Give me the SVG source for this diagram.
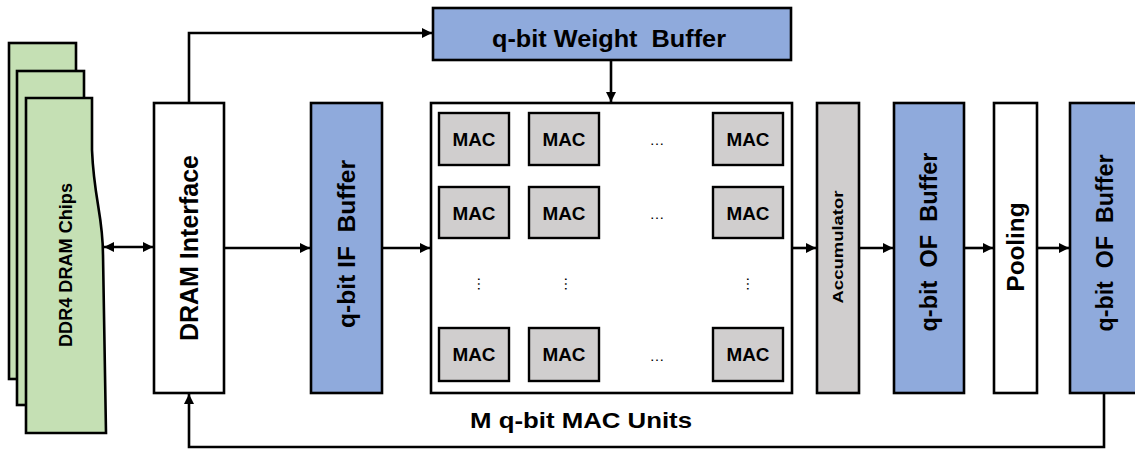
<svg xmlns="http://www.w3.org/2000/svg" width="1135" height="452" viewBox="0 0 1135 452">
  <defs>
    <marker id="arrow" viewBox="0 0 10 10" refX="10" refY="5" markerWidth="4" markerHeight="4" orient="auto-start-reverse" markerUnits="strokeWidth">
      <path d="M0,0 L10,5 L0,10 Z" fill="#000"/>
    </marker>
    <style>
      .box { stroke: #000; stroke-width: 2.6; }
      .white { fill: #ffffff; }
      .blue { fill: #8faadc; }
      .gray { fill: #d0cece; }
      .green { fill: #c5e0b4; }
      .mac { fill: #d0cece; stroke: #000; stroke-width: 2.4; }
      .lbl { font-family: "Liberation Sans", Arial, sans-serif; font-weight: bold; fill: #000; text-anchor: middle; }
      .dots { font-family: "Liberation Sans", Arial, sans-serif; fill: #000; text-anchor: middle; font-size: 15px; }
      .wire { fill: none; stroke: #000; stroke-width: 2.6; }
    </style>
  </defs>

  <rect width="1135" height="452" fill="#ffffff"/>

  <!-- stacked DRAM chips -->
  <g id="dram-chips">
    <rect class="box green" x="9" y="43" width="67" height="336"/>
    <rect class="box green" x="17" y="71" width="67" height="334"/>
    <path class="box green" d="M26,98 L92,98 L92,150 C94,200 103,215 103,255 L106,433 L26,433 Z"/>
    <text class="lbl" font-size="18" transform="translate(72,265) rotate(-90)" textLength="164" lengthAdjust="spacingAndGlyphs">DDR4 DRAM Chips</text>
  </g>

  <g id="dram-interface">
    <rect class="box white" x="154" y="103" width="70" height="290"/>
    <text class="lbl" font-size="26" transform="translate(198,248) rotate(-90)" textLength="186" lengthAdjust="spacingAndGlyphs">DRAM Interface</text>
  </g>

  <g id="weight-buffer">
    <rect class="box blue" x="433" y="8" width="358" height="52"/>
    <text class="lbl" x="609" y="47" font-size="23" textLength="234" lengthAdjust="spacingAndGlyphs" xml:space="preserve">q-bit Weight  Buffer</text>
  </g>

  <g id="if-buffer">
    <rect class="box blue" x="311" y="103" width="71" height="290"/>
    <text class="lbl" font-size="23" transform="translate(355,244) rotate(-90)" textLength="168" lengthAdjust="spacingAndGlyphs" xml:space="preserve">q-bit IF  Buffer</text>
  </g>

  <!-- MAC array -->
  <g id="mac-array">
    <rect class="box white" x="431" y="103" width="361" height="290"/>
    <g id="mac-row-1">
      <rect class="mac" x="439" y="113" width="70" height="52"/>
      <rect class="mac" x="529" y="113" width="70" height="52"/>
      <rect class="mac" x="713" y="113" width="70" height="52"/>
      <text class="lbl" x="474" y="146" font-size="19" textLength="43" lengthAdjust="spacingAndGlyphs">MAC</text>
      <text class="lbl" x="564" y="146" font-size="19" textLength="43" lengthAdjust="spacingAndGlyphs">MAC</text>
      <text class="lbl" x="748" y="146" font-size="19" textLength="43" lengthAdjust="spacingAndGlyphs">MAC</text>
      <text class="dots" x="657" y="145">…</text>
    </g>
    <g id="mac-row-2">
      <rect class="mac" x="439" y="187" width="70" height="51"/>
      <rect class="mac" x="529" y="187" width="70" height="51"/>
      <rect class="mac" x="713" y="187" width="70" height="51"/>
      <text class="lbl" x="474" y="220" font-size="19" textLength="43" lengthAdjust="spacingAndGlyphs">MAC</text>
      <text class="lbl" x="564" y="220" font-size="19" textLength="43" lengthAdjust="spacingAndGlyphs">MAC</text>
      <text class="lbl" x="748" y="220" font-size="19" textLength="43" lengthAdjust="spacingAndGlyphs">MAC</text>
      <text class="dots" x="657" y="219">…</text>
    </g>
    <g id="mac-vdots">
      <text class="dots" transform="translate(478,284) rotate(90)" x="0" y="0">…</text>
      <text class="dots" transform="translate(565,284) rotate(90)" x="0" y="0">…</text>
      <text class="dots" transform="translate(747,284) rotate(90)" x="0" y="0">…</text>
    </g>
    <g id="mac-row-n">
      <rect class="mac" x="439" y="328" width="70" height="53"/>
      <rect class="mac" x="529" y="328" width="70" height="53"/>
      <rect class="mac" x="713" y="328" width="70" height="53"/>
      <text class="lbl" x="474" y="361" font-size="19" textLength="43" lengthAdjust="spacingAndGlyphs">MAC</text>
      <text class="lbl" x="564" y="361" font-size="19" textLength="43" lengthAdjust="spacingAndGlyphs">MAC</text>
      <text class="lbl" x="748" y="361" font-size="19" textLength="43" lengthAdjust="spacingAndGlyphs">MAC</text>
      <text class="dots" x="657" y="361">…</text>
    </g>
  </g>

  <g id="mac-caption">
    <text class="lbl" x="581" y="428" font-size="22" textLength="222" lengthAdjust="spacingAndGlyphs">M q-bit MAC Units</text>
  </g>

  <g id="accumulator">
    <rect class="box gray" x="817" y="103" width="42" height="290"/>
    <text class="lbl" font-size="15" transform="translate(843,247) rotate(-90)" textLength="113" lengthAdjust="spacingAndGlyphs">Accumulator</text>
  </g>

  <g id="of-buffer-1">
    <rect class="box blue" x="894" y="103" width="70" height="290"/>
    <text class="lbl" font-size="23" transform="translate(937,242) rotate(-90)" textLength="179" lengthAdjust="spacingAndGlyphs" xml:space="preserve">q-bit  OF  Buffer</text>
  </g>

  <g id="pooling">
    <rect class="box white" x="994" y="103" width="43" height="290"/>
    <text class="lbl" font-size="23" transform="translate(1024,247) rotate(-90)" textLength="89" lengthAdjust="spacingAndGlyphs">Pooling</text>
  </g>

  <g id="of-buffer-2">
    <rect class="box blue" x="1070" y="103" width="72" height="290"/>
    <text class="lbl" font-size="23" transform="translate(1113,243) rotate(-90)" textLength="177" lengthAdjust="spacingAndGlyphs" xml:space="preserve">q-bit  OF  Buffer</text>
  </g>

  <!-- data paths -->
  <g id="connectors">
    <path class="wire" d="M104,247 L153,247" marker-start="url(#arrow)" marker-end="url(#arrow)"/>
    <path class="wire" d="M189,102 L189,33 L432,33" marker-end="url(#arrow)"/>
    <path class="wire" d="M225,248 L310,248" marker-end="url(#arrow)"/>
    <path class="wire" d="M383,248 L430,248" marker-end="url(#arrow)"/>
    <path class="wire" d="M611,61 L611,102" marker-end="url(#arrow)"/>
    <path class="wire" d="M793,248 L816,248" marker-end="url(#arrow)"/>
    <path class="wire" d="M860,248 L893,248" marker-end="url(#arrow)"/>
    <path class="wire" d="M965,248 L993,248" marker-end="url(#arrow)"/>
    <path class="wire" d="M1038,248 L1069,248" marker-end="url(#arrow)"/>
    <path class="wire" d="M1104,394 L1104,447 L189,447 L189,394" marker-end="url(#arrow)"/>
  </g>
</svg>
